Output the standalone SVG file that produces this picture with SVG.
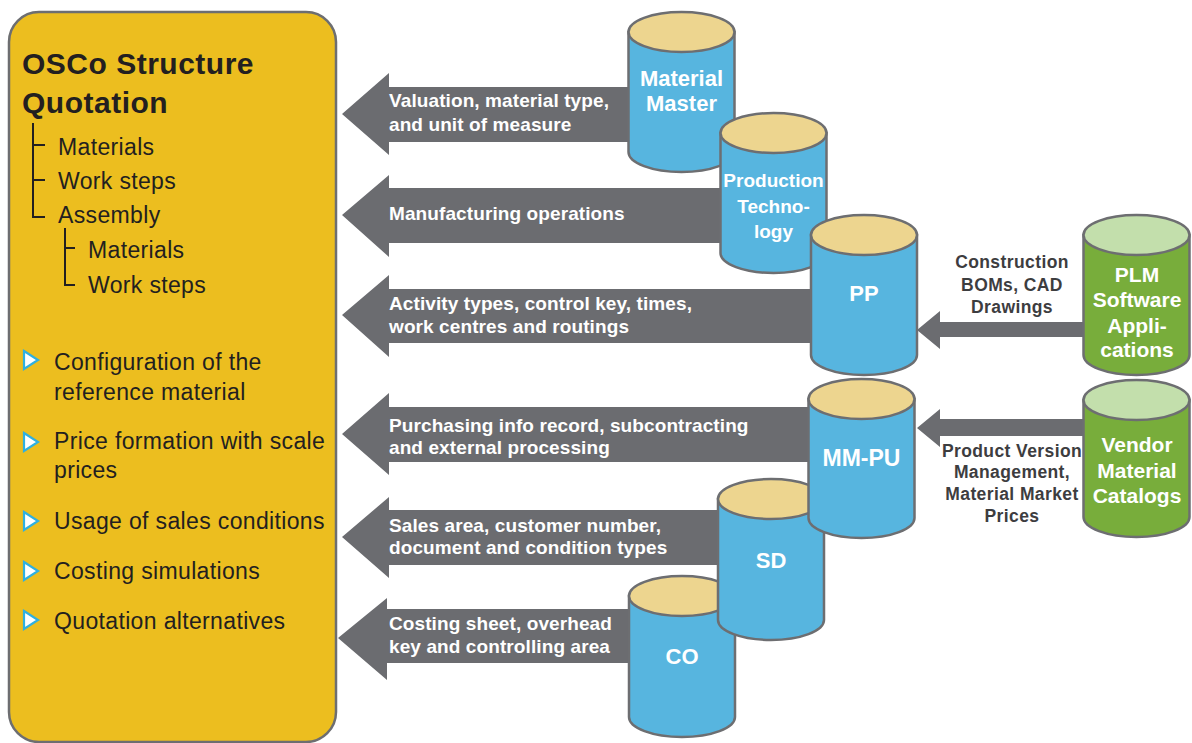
<svg xmlns="http://www.w3.org/2000/svg" width="1192" height="743" viewBox="0 0 1192 743">
<style>
.body{fill:#57b5df;stroke:#6d6e71;stroke-width:2.5}
.top{fill:#edd58f;stroke:#6d6e71;stroke-width:2.5}
.gbody{fill:#78ad3b;stroke:#6d6e71;stroke-width:2.5}
.gtop{fill:#c3dfac;stroke:#6d6e71;stroke-width:2.5}
.arrow{fill:#6b6c70}
.cyl{font-family:"Liberation Sans",Arial,sans-serif;font-weight:bold;fill:#ffffff;text-anchor:middle}
.alab{font-family:"Liberation Sans",Arial,sans-serif;font-weight:bold;fill:#ffffff;font-size:19px;letter-spacing:0.1px}
.rlab{font-family:"Liberation Sans",Arial,sans-serif;font-weight:bold;fill:#3d3d3f;font-size:17.5px;text-anchor:middle;letter-spacing:0.4px}
.item{font-family:"Liberation Sans",Arial,sans-serif;fill:#231f20;font-size:23px;letter-spacing:0.35px}
.tree{fill:none;stroke:#231f20;stroke-width:2}
.bullet{fill:#ffffff;stroke:#2fb0e0;stroke-width:2.2;stroke-linejoin:miter}
</style>

<g id="quotation">
  <rect x="9" y="12" width="327" height="730" rx="30" ry="30" fill="#ecbe1f" stroke="#6d6e71" stroke-width="2.5"/>
  <text x="22" y="74" font-family="Liberation Sans,Arial,sans-serif" font-weight="bold" font-size="30" letter-spacing="0.5" fill="#231f20">OSCo Structure</text>
  <text x="22" y="113" font-family="Liberation Sans,Arial,sans-serif" font-weight="bold" font-size="30" letter-spacing="0.5" fill="#231f20">Quotation</text>
  <path class="tree" d="M33,123 V217 H45 M33,145 H45 M33,180 H45 M65,228 V285 H75 M65,248 H75"/>
  <text class="item" x="58" y="155">Materials</text>
  <text class="item" x="58" y="189">Work steps</text>
  <text class="item" x="58" y="223">Assembly</text>
  <text class="item" x="88" y="258">Materials</text>
  <text class="item" x="88" y="293">Work steps</text>
  <polygon class="bullet" points="24,351 38,360 24,369"/>
  <polygon class="bullet" points="24,433 38,442 24,451"/>
  <polygon class="bullet" points="24,512 38,521 24,530"/>
  <polygon class="bullet" points="24,562 38,571 24,580"/>
  <polygon class="bullet" points="24,611 38,620 24,629"/>
  <text class="item" x="54" y="370">Configuration of the</text>
  <text class="item" x="54" y="400">reference material</text>
  <text class="item" x="54" y="449">Price formation with scale</text>
  <text class="item" x="54" y="478">prices</text>
  <text class="item" x="54" y="529">Usage of sales conditions</text>
  <text class="item" x="54" y="579">Costing simulations</text>
  <text class="item" x="54" y="629">Quotation alternatives</text>
</g>

<g id="connectors">
  <polygon class="arrow" points="342,114 389,73 389,87 680,87 680,142 389,142 389,155"/>
  <polygon class="arrow" points="342,215 389,175 389,188 770,188 770,243 389,243 389,257"/>
  <polygon class="arrow" points="342,315 389,275 389,289 860,289 860,343 389,343 389,357"/>
  <polygon class="arrow" points="342,434 389,393 389,407 860,407 860,462 389,462 389,475"/>
  <polygon class="arrow" points="342,537 389,497 389,510 770,510 770,565 389,565 389,578"/>
  <polygon class="arrow" points="338,638 387,598 387,609 680,609 680,663 387,663 387,680"/>
  <polygon class="arrow" points="917,330 940,311 940,322 1110,322 1110,337 940,337 940,349"/>
  <polygon class="arrow" points="917,428 940,409 940,419 1110,419 1110,436 940,436 940,447"/>
  <text class="alab" x="389" y="107">Valuation, material type,</text>
  <text class="alab" x="389" y="131">and unit of measure</text>
  <text class="alab" x="389" y="220">Manufacturing operations</text>
  <text class="alab" x="389" y="310">Activity types, control key, times,</text>
  <text class="alab" x="389" y="333">work centres and routings</text>
  <text class="alab" x="389" y="432">Purchasing info record, subcontracting</text>
  <text class="alab" x="389" y="454">and external processing</text>
  <text class="alab" x="389" y="532">Sales area, customer number,</text>
  <text class="alab" x="389" y="554">document and condition types</text>
  <text class="alab" x="389" y="630">Costing sheet, overhead</text>
  <text class="alab" x="389" y="653">key and controlling area</text>
  <text class="rlab" x="1012" y="268">Construction</text>
  <text class="rlab" x="1012" y="291">BOMs, CAD</text>
  <text class="rlab" x="1012" y="313">Drawings</text>
  <text class="rlab" x="1012" y="457">Product Version</text>
  <text class="rlab" x="1012" y="478">Management,</text>
  <text class="rlab" x="1012" y="500">Material Market</text>
  <text class="rlab" x="1012" y="522">Prices</text>
</g>

<g id="material-master">
  <path class="body" d="M628.5,32 V152 A53,20 0 0 0 734.5,152 V32 Z"/>
  <ellipse class="top" cx="681.5" cy="32" rx="53" ry="20"/>
  <text class="cyl" x="681.5" y="86" font-size="22">Material</text>
  <text class="cyl" x="681.5" y="111" font-size="22">Master</text>
</g>

<g id="production-technology">
  <path class="body" d="M720.5,133 V253 A53,20 0 0 0 826.5,253 V133 Z"/>
  <ellipse class="top" cx="773.5" cy="133" rx="53" ry="20"/>
  <text class="cyl" x="773.5" y="187" font-size="19">Production</text>
  <text class="cyl" x="773.5" y="213" font-size="19">Techno-</text>
  <text class="cyl" x="773.5" y="238" font-size="19">logy</text>
</g>

<g id="pp">
  <path class="body" d="M811,235 V355 A53,20 0 0 0 917,355 V235 Z"/>
  <ellipse class="top" cx="864" cy="235" rx="53" ry="20"/>
  <text class="cyl" x="864" y="301" font-size="22">PP</text>
</g>

<g id="co">
  <path class="body" d="M629,596 V717 A53,20 0 0 0 735,717 V596 Z"/>
  <ellipse class="top" cx="682" cy="596" rx="53" ry="20"/>
  <text class="cyl" x="682" y="664" font-size="22">CO</text>
</g>

<g id="sd">
  <path class="body" d="M718,499 V620 A53,20 0 0 0 824,620 V499 Z"/>
  <ellipse class="top" cx="771" cy="499" rx="53" ry="20"/>
  <text class="cyl" x="771" y="568" font-size="22">SD</text>
</g>

<g id="mm-pu">
  <path class="body" d="M808.5,399 V518 A53,20 0 0 0 914.5,518 V399 Z"/>
  <ellipse class="top" cx="861.5" cy="399" rx="53" ry="20"/>
  <text class="cyl" x="861.5" y="466" font-size="23">MM-PU</text>
</g>

<g id="plm">
  <path class="gbody" d="M1083.5,235 V355 A53,20 0 0 0 1189.5,355 V235 Z"/>
  <ellipse class="gtop" cx="1136.5" cy="235" rx="53" ry="20"/>
  <text class="cyl" x="1137" y="282" font-size="21">PLM</text>
  <text class="cyl" x="1137" y="307" font-size="21">Software</text>
  <text class="cyl" x="1137" y="333" font-size="21">Appli-</text>
  <text class="cyl" x="1137" y="357" font-size="21">cations</text>
</g>

<g id="vendor">
  <path class="gbody" d="M1083.5,400 V517 A53,20 0 0 0 1189.5,517 V400 Z"/>
  <ellipse class="gtop" cx="1136.5" cy="400" rx="53" ry="20"/>
  <text class="cyl" x="1137" y="452" font-size="21">Vendor</text>
  <text class="cyl" x="1137" y="478" font-size="21">Material</text>
  <text class="cyl" x="1137" y="503" font-size="21">Catalogs</text>
</g>
</svg>
